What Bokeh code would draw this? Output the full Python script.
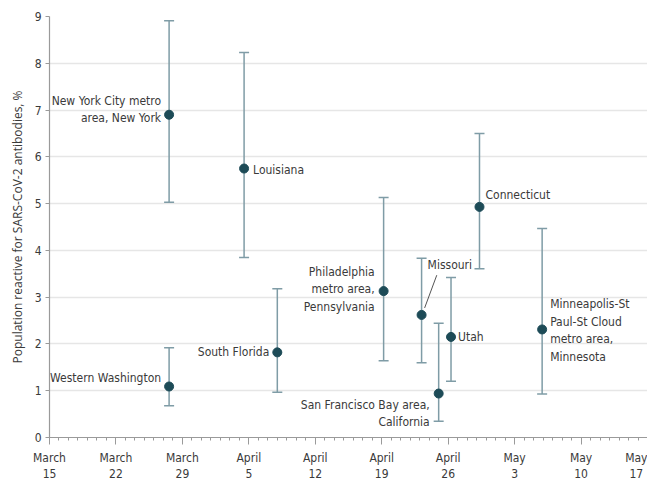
from bokeh.plotting import figure
from bokeh.models import ColumnDataSource, FixedTicker, Range1d, Whisker, TeeHead
from bokeh.core.properties import value
from bokeh.embed import file_html
from bokeh.resources import INLINE

# ---- data (days after March 15, 2020) ----
sites = ["New York City metro\narea, New York", "Western Washington", "Louisiana",
         "South Florida", "Philadelphia\nmetro area,\nPennsylvania", "Missouri",
         "San Francisco Bay area,\nCalifornia", "Utah", "Connecticut",
         "Minneapolis-St\nPaul-St Cloud\nmetro area,\nMinnesota"]
day = [12.6, 12.6, 20.5, 24.0, 35.2, 39.2, 41.0, 42.3, 45.3, 51.9]
pct = [6.90, 1.09, 5.75, 1.82, 3.13, 2.62, 0.94, 2.15, 4.93, 2.31]
low = [5.03, 0.68, 3.85, 0.97, 1.64, 1.60, 0.35, 1.20, 3.61, 0.93]
high = [8.91, 1.92, 8.23, 3.18, 5.13, 3.83, 2.44, 3.42, 6.50, 4.47]

tick_days = [0, 7, 14, 21, 28, 35, 42, 49, 56, 63]
tick_labels = ["March\n15", "March\n22", "March\n29", "April\n5", "April\n12",
               "April\n19", "April\n26", "May\n3", "May\n10", "May\n17"]
y_ticks = list(range(0, 10))

# label placement (styling only)
align = ["right", "right", "left", "right", "right", "left", "right", "left", "left", "left"]
xoff = [-8, -8, 9, -8, -9, 6, -9, 7, 6, 8]
yoff = [-5, -9, 1, 0, -2, -50, 20, 0, -12, 1]

FONT = "DejaVu Sans Condensed, Roboto"
DOT = "#1d4b57"
BAR = "#7f9ca6"
TXT = "#3a3a3a"

src = ColumnDataSource(dict(x=day, y=pct, lo=low, hi=high, name=sites,
                            align=align, xo=xoff, yo=yoff))

p = figure(width=647, height=484, output_backend="svg", toolbar_location=None,
           x_range=Range1d(0, 63), y_range=Range1d(0, 9),
           min_border_left=49, min_border_right=0, min_border_top=16, min_border_bottom=44)
p.outline_line_color = None
p.background_fill_color = "white"

# grid
p.xgrid.grid_line_color = None
p.ygrid.grid_line_color = "#e6e6e6"
p.ygrid.grid_line_width = 1.3

# axes
p.yaxis.ticker = FixedTicker(ticks=y_ticks)
p.xaxis.ticker = FixedTicker(ticks=tick_days, minor_ticks=list(range(0, 64)))
p.xaxis.major_label_overrides = {d: l for d, l in zip(tick_days, tick_labels)}
for ax in (p.xaxis[0], p.yaxis[0]):
    ax.axis_line_color = "#9a9a9a"
    ax.axis_line_width = 1.2
    ax.major_tick_line_color = "#9a9a9a"
    ax.minor_tick_line_color = "#9a9a9a"
    ax.major_tick_in = 0
    ax.minor_tick_in = 0
    ax.major_label_text_font = FONT
    ax.major_label_text_color = TXT
    ax.major_label_text_font_size = "12px"
p.xaxis.major_tick_out = 7
p.xaxis.minor_tick_out = 3
p.xaxis.major_label_standoff = 6
p.xaxis.major_label_text_line_height = 1.2
p.yaxis.major_tick_out = 4
p.yaxis.minor_tick_line_color = None
p.yaxis.major_label_standoff = 4
p.yaxis.axis_label = "Population reactive for SARS-CoV-2 antibodies, %"
p.yaxis.axis_label_text_font = "Open Sans"
p.yaxis.axis_label_text_font_style = "normal"
p.yaxis.axis_label_text_font_size = "12px"
p.yaxis.axis_label_text_color = TXT
p.yaxis.axis_label_standoff = 6

# error bars
p.add_layout(Whisker(source=src, base="x", lower="lo", upper="hi", dimension="height",
                     line_color=BAR, line_width=1.5,
                     lower_head=TeeHead(size=10, line_color=BAR, line_width=1.5),
                     upper_head=TeeHead(size=10, line_color=BAR, line_width=1.5)))

# Missouri leader line (from point, in data units)
mi = 5
p.segment(x0=[day[mi] + 0.32], y0=[pct[mi] + 0.15], x1=[day[mi] + 1.6], y1=[pct[mi] + 0.85],
          line_color="#555555", line_width=1)

# points
p.scatter("x", "y", source=src, size=9, color=DOT)

# labels
p.text("x", "y", text="name", source=src, text_align="align", text_baseline="middle",
       x_offset="xo", y_offset="yo", text_font=value(FONT), text_font_size="12px",
       text_color=TXT, text_line_height=1.25)

open("out.html", "w").write(file_html(p, INLINE))
